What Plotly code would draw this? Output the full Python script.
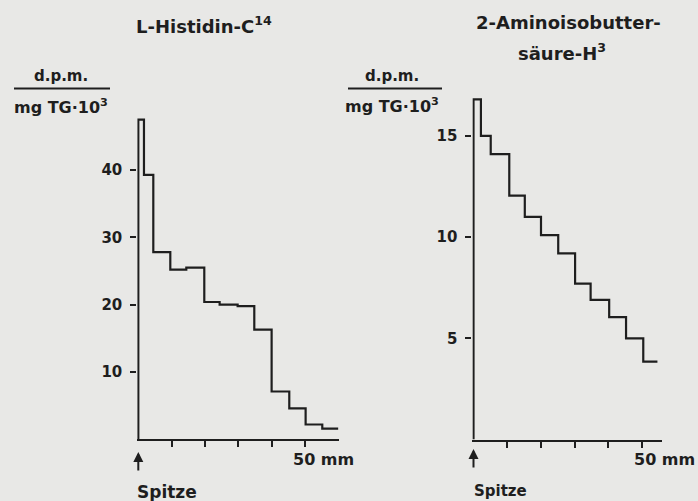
import plotly.graph_objects as go

# ---------------- data ----------------
left_title = "L-Histidin-C<sup>14</sup>"
right_title_1 = "2-Aminoisobutter-"
right_title_2 = "säure-H<sup>3</sup>"
unit_num = "d.p.m."
unit_den = "mg TG·10<sup>3</sup>"
x_label = "50 mm"
origin_label = "Spitze"

# left panel: step boundaries (mm) and activity per segment
left_edges = [0, 1.7, 4.5, 9.6, 14.4, 19.8, 24.4, 29.8, 34.8, 40.0, 45.3, 50.2, 55.2, 60.0]
left_vals = [47.5, 39.3, 27.8, 25.2, 25.5, 20.4, 20.0, 19.8, 16.3, 7.1, 4.6, 2.2, 1.6]
left_yticks = [10, 20, 30, 40]

# right panel
right_edges = [0, 2.2, 5.1, 10.6, 15.2, 20.0, 25.1, 30.1, 34.7, 40.2, 45.2, 50.3, 54.5]
right_vals = [16.8, 15.0, 14.1, 12.05, 11.0, 10.1, 9.2, 7.7, 6.9, 6.05, 5.0, 3.85]
right_yticks = [5, 10, 15]

x_ticks = [10, 20, 30, 40, 50]

# ---------------- styling ----------------
W, H = 698, 501
BG = "#e8e8e6"
INK = "#1e1e1e"
FONT = "DejaVu Sans"


def px(xp):
    return xp / W


def py(yp):
    return 1 - yp / H


def step_xy(edges, vals):
    xs = [edges[0]] + edges[:-1] + [edges[-1]]
    ys = [0] + vals + [vals[-1]]
    return xs, ys


fig = go.Figure()

lx, ly = step_xy(left_edges, left_vals)
rx, ry = step_xy(right_edges, right_vals)

fig.add_trace(go.Scatter(x=lx, y=ly, mode="lines", line=dict(shape="hv", color=INK, width=2.2),
                         xaxis="x", yaxis="y", hoverinfo="skip", showlegend=False))
fig.add_trace(go.Scatter(x=rx, y=ry, mode="lines", line=dict(shape="hv", color=INK, width=2.2),
                         xaxis="x2", yaxis="y2", hoverinfo="skip", showlegend=False))

# axis geometry (pixels)
L_x0, L_scale = 138.3, 3.333
L_y0, L_yscale = 439.3, 6.73
R_x0, R_scale = 473.5, 3.375
R_y0, R_yscale = 439.5, 20.24

lxr = [-0.3, 60.1]
lyr = [0, 47.9]
rxr = [-0.3, 55.9]
ryr = [0, 16.95]

tickfont = dict(family=FONT, size=15, color=INK, weight="bold")

xcommon = dict(showgrid=False, zeroline=False, showline=True, linecolor=INK, linewidth=2,
               ticks="outside", ticklen=6, tickwidth=2, tickcolor=INK, tickvals=x_ticks,
               showticklabels=False, fixedrange=True)
ycommon = dict(showgrid=False, zeroline=False, showline=False,
               ticks="outside", ticklen=6, tickwidth=2, tickcolor=INK,
               tickfont=tickfont, ticklabelstandoff=5, fixedrange=True)

fig.update_layout(
    width=W, height=H,
    margin=dict(l=0, r=0, t=0, b=0),
    paper_bgcolor=BG, plot_bgcolor=BG,
    showlegend=False,
    xaxis=dict(domain=[px(L_x0 + lxr[0] * L_scale), px(L_x0 + lxr[1] * L_scale)], range=lxr,
               anchor="y", **xcommon),
    yaxis=dict(domain=[py(L_y0 - lyr[0] * L_yscale), py(L_y0 - lyr[1] * L_yscale)], range=lyr,
               anchor="x", tickvals=left_yticks, **ycommon),
    xaxis2=dict(domain=[px(R_x0 + rxr[0] * R_scale), px(R_x0 + rxr[1] * R_scale)], range=rxr,
                anchor="y2", **xcommon),
    yaxis2=dict(domain=[py(R_y0 - ryr[0] * R_yscale), py(R_y0 - ryr[1] * R_yscale)], range=ryr,
                anchor="x2", tickvals=right_yticks, **ycommon),
)


def txt(x, y, text, size=16, xanchor="center", yanchor="middle"):
    fig.add_annotation(x=px(x), y=py(y), xref="paper", yref="paper", text=text, showarrow=False,
                       xanchor=xanchor, yanchor=yanchor,
                       font=dict(family=FONT, size=size, color=INK, weight="bold"))


# titles
txt(204, 25, left_title, size=18)
txt(568, 22, right_title_1, size=18)
txt(562, 52, right_title_2, size=18)

# unit fractions
txt(61, 76, unit_num, size=15)
txt(61, 106, unit_den, size=16)
txt(392, 76, unit_num, size=15)
txt(392, 105, unit_den, size=16)
fig.add_shape(type="line", xref="paper", yref="paper", x0=px(14), x1=px(110), y0=py(88.5), y1=py(88.5),
              line=dict(color=INK, width=2))
fig.add_shape(type="line", xref="paper", yref="paper", x0=px(348), x1=px(442), y0=py(88.5), y1=py(88.5),
              line=dict(color=INK, width=2))

# "50 mm" labels
txt(291, 459, x_label, size=16, xanchor="left")
txt(632, 459, x_label, size=16, xanchor="left")

# Spitze labels and arrows
txt(135, 492, origin_label, size=17, xanchor="left")
txt(472, 491, origin_label, size=15, xanchor="left")
for xr, head in (("x", 452), ("x2", 449)):
    fig.add_annotation(x=0, y=py(head), xref=xr, yref="paper", text="", showarrow=True,
                       ax=0, ay=20, arrowhead=2, arrowsize=1, arrowwidth=2, arrowcolor=INK)

fig.write_html("out.html", config={"displayModeBar": False},
               post_script="document.body.style.margin='0';document.body.style.overflow='hidden';")
